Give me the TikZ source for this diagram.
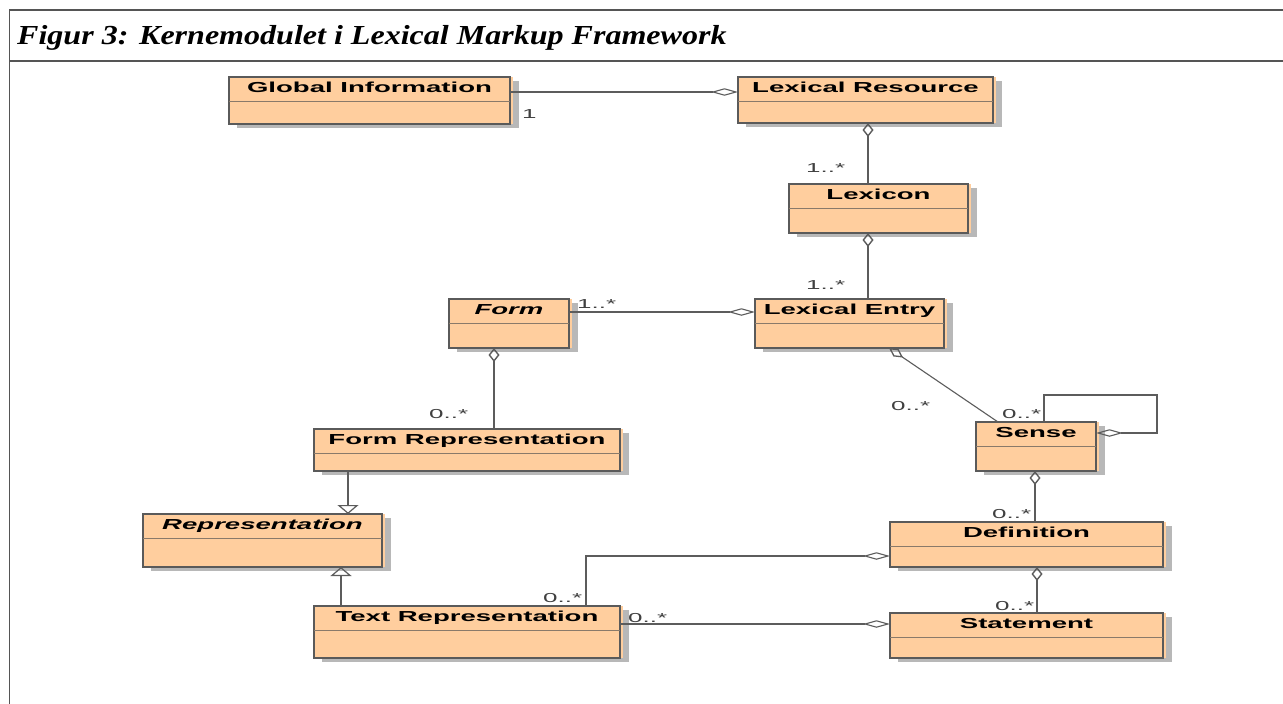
\documentclass[tikz,border=0pt]{standalone}
\usepackage{fontspec}
\usepackage{graphicx}
\usetikzlibrary{arrows.meta}
\newfontfamily\arialfont{Liberation Sans}
\newfontfamily\timesfont{Liberation Serif}

\definecolor{boxfill}{HTML}{FFCE9E}
\definecolor{boxline}{HTML}{5A5A5A}
\definecolor{divline}{HTML}{8A7A6A}
\definecolor{shadowc}{HTML}{B8B8B8}
\definecolor{connline}{HTML}{5C5C5C}
\definecolor{multc}{HTML}{404040}
\definecolor{framec}{HTML}{555555}

% class name: wide bold sans
\newcommand\clsname[2]{\scalebox{1.9}[1]{\fontsize{14.5}{16}\selectfont\arialfont\bfseries#1#2}}
% multiplicity text
\newcommand\multtext[1]{\scalebox{2.0}[1]{\fontsize{13}{15}\selectfont\arialfont #1}}

\tikzset{
  classbox/.style={rectangle, draw=boxline, line width=1.3pt, inner sep=0pt, outer sep=0pt},
  divider/.style={draw=divline, line width=0.8pt},
  conn/.style={draw=connline, line width=1.1pt},
  connv/.style={draw=connline, line width=1.7pt},
  aggh/.style={conn, -{Diamond[open, length=27pt, width=7.5pt]}},
  aggv/.style={connv, -{Diamond[open, length=14pt, width=11pt, line width=1.4pt]}},
  aggd/.style={conn, -{Diamond[open, length=17pt, width=9pt, line width=1.3pt]}},
  gen/.style={connv, -{Triangle[open, length=9pt, width=21pt, line width=1.2pt]}},
  mult/.style={anchor=base west, text=multc, inner sep=0pt},
  frame/.style={draw=framec, line width=1.5pt},
}

% #1 name, #2 x1, #3 y1, #4 x2, #5 y2, #6 font switch, #7 class name
\newcommand\umlclass[7]{%
  \fill[shadowc] (#2+8,#3+4) rectangle (#4+9,#5+4);
  \fill[boxfill] (#2,#3) rectangle (#4+3,#5);
  \node[classbox, minimum width={#4-#2}, minimum height={#5-#3}] (#1) at ({(#2+#4)/2},{(#3+#5)/2}) {};
  \draw[divider] ([yshift=-24pt]#1.north west) -- ([yshift=-24pt]#1.north east);
  \node[anchor=base, inner sep=0pt] (#1-name) at ({(#2+#4)/2},#3+15) {\clsname{#6}{#7}};
}

\begin{document}
\begin{tikzpicture}[x=1pt, y=-1pt]
  \useasboundingbox (0,0) rectangle (1283,704);
  \fill[white] (0,0) rectangle (1283,704);

  % outer frame and caption bar
  \draw[frame] (1283,10) -- (9.5,10) -- (9.5,704);
  \draw[frame] (9.5,61) -- (1283,61);
  \node[anchor=base west, inner sep=0pt] (title) at (17,44)
    {\scalebox{1.165}[1]{\fontsize{27.5}{30}\selectfont\timesfont\bfseries\itshape Figur 3: Kernemodulet i Lexical Markup Framework}};

  % classes
  \umlclass{gi}{229}{77}{510}{124}{}{Global Information}
  \umlclass{lr}{738}{77}{993}{123}{}{Lexical Resource}
  \umlclass{lx}{789}{184}{968}{233}{}{Lexicon}
  \umlclass{le}{755}{299}{944}{348}{}{Lexical Entry}
  \umlclass{fm}{449}{299}{569}{348}{\itshape}{Form}
  \umlclass{fr}{314}{429}{620}{471}{}{Form Representation}
  \umlclass{rp}{143}{514}{382}{567}{\itshape}{Representation}
  \umlclass{tr}{314}{606}{620}{658}{}{Text Representation}
  \umlclass{se}{976}{422}{1096}{471}{}{Sense}
  \umlclass{df}{890}{522}{1163}{567}{}{Definition}
  \umlclass{st}{890}{613}{1163}{658}{}{Statement}

  % aggregations
  \draw[aggh] (gi.east |- 0,92) -- (lr.west |- 0,92);
  \draw[aggv] (868,0 |- lx.north) -- (868,0 |- lr.south);
  \draw[aggv] (868,0 |- le.north) -- (868,0 |- lx.south);
  \draw[aggh] (fm.east |- 0,312) -- (le.west |- 0,312);
  \draw[aggv] (494,0 |- fr.north) -- (494,0 |- fm.south);
  \draw[aggd] (998,0 |- se.north) -- (889,0 |- le.south);
  \draw[aggh] (1044,0 |- se.north) |- (1157,395) |- (se.east |- 0,433);
  \draw[aggv] (1035,0 |- df.north) -- (1035,0 |- se.south);
  \draw[aggv] (1037,0 |- st.north) -- (1037,0 |- df.south);
  \draw[aggh] (586,0 |- tr.north) |- (df.west |- 0,556);
  \draw[aggh] (tr.east |- 0,624) -- (st.west |- 0,624);

  % generalizations
  \draw[gen] (348,0 |- fr.south) -- (348,0 |- rp.north);
  \draw[gen] (341,0 |- tr.north) -- (341,0 |- rp.south);

  % multiplicities
  \node[mult] (m1) at (522,118) {\multtext{1}};
  \node[mult] (m2) at (806,172) {\multtext{1..*}};
  \node[mult] (m3) at (806,289) {\multtext{1..*}};
  \node[mult] (m4) at (577,308) {\multtext{1..*}};
  \node[mult] (m5) at (429,418) {\multtext{0..*}};
  \node[mult] (m6) at (891,410) {\multtext{0..*}};
  \node[mult] (m7) at (1002,418) {\multtext{0..*}};
  \node[mult] (m8) at (992,518) {\multtext{0..*}};
  \node[mult] (m9) at (995,610) {\multtext{0..*}};
  \node[mult] (m10) at (543,602) {\multtext{0..*}};
  \node[mult] (m11) at (628,622) {\multtext{0..*}};
\end{tikzpicture}
\end{document}
